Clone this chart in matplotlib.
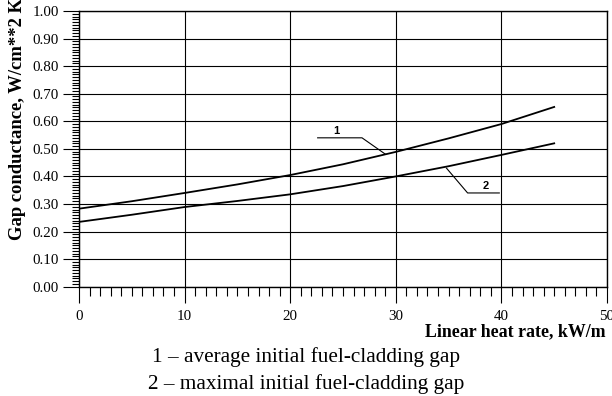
import numpy as np
import matplotlib
matplotlib.use("Agg")
import matplotlib.pyplot as plt
from matplotlib.ticker import MultipleLocator, FormatStrFormatter

# Linear heat rate, kW/m
q = [0, 5, 10, 15, 20, 25, 30, 35, 40, 45]
# 1 - average initial fuel-cladding gap
h_avg = [0.283, 0.310, 0.340, 0.371, 0.405, 0.444, 0.489, 0.538, 0.590, 0.652]
# 2 - maximal initial fuel-cladding gap
h_max = [0.235, 0.261, 0.289, 0.311, 0.335, 0.365, 0.400, 0.437, 0.478, 0.520]

plt.rcParams["font.family"] = ["Liberation Serif", "DejaVu Serif"]

fig = plt.figure(figsize=(6.12, 3.96), dpi=100)
ax = fig.add_axes([79 / 612, 1 - 286.7 / 396, 528 / 612, 275.7 / 396])

ax.plot(q, h_avg, color="black", lw=1.3)
ax.plot(q, h_max, color="black", lw=1.3)

# leader lines for curve numbers
ax.plot([22.6, 26.8, 29.0], [0.54, 0.54, 0.481], color="black", lw=0.8)
ax.text(24.4, 0.565, "1", family="Liberation Sans", weight="bold", fontsize=8,
        ha="center", va="center")
ax.plot([34.8, 36.8, 39.8], [0.43, 0.34, 0.34], color="black", lw=0.8)
ax.text(38.5, 0.367, "2", family="Liberation Sans", weight="bold", fontsize=8,
        ha="center", va="center")

ax.set_xlim(0, 50)
ax.set_ylim(0, 1.0)
ax.xaxis.set_major_locator(MultipleLocator(10))
ax.xaxis.set_minor_locator(MultipleLocator(1))
ax.yaxis.set_major_locator(MultipleLocator(0.1))
ax.yaxis.set_minor_locator(MultipleLocator(0.01))
ax.yaxis.set_major_formatter(FormatStrFormatter("%.2f"))

ax.grid(True, which="major", color="black", lw=0.8)
ax.tick_params(axis="both", which="major", direction="out", length=11.5,
               width=0.8, labelsize=10.8, pad=3)
ax.tick_params(axis="x", which="major", pad=5)
ax.tick_params(axis="x", which="minor", direction="out", length=6.5, width=0.8)
ax.tick_params(axis="y", which="minor", direction="out", length=5, width=0.8)
for s in ax.spines.values():
    s.set_linewidth(1.0)

fig.text(18 / 612, 1 - 240 / 396, "Gap conductance, W/cm**2 K", rotation=90,
         ha="center", va="bottom", fontsize=13.4, weight="bold")
fig.text(606 / 612, 1 - 332 / 396, "Linear heat rate, kW/m", ha="right",
         va="center", fontsize=12.9, weight="bold")
fig.text(0.5, 1 - 357 / 396, "1 \u2013 average initial fuel-cladding gap",
         ha="center", va="center", fontsize=15.3)
fig.text(0.5, 1 - 384 / 396, "2 \u2013 maximal initial fuel-cladding gap",
         ha="center", va="center", fontsize=15.3)

fig.savefig("out.png", dpi=100)
